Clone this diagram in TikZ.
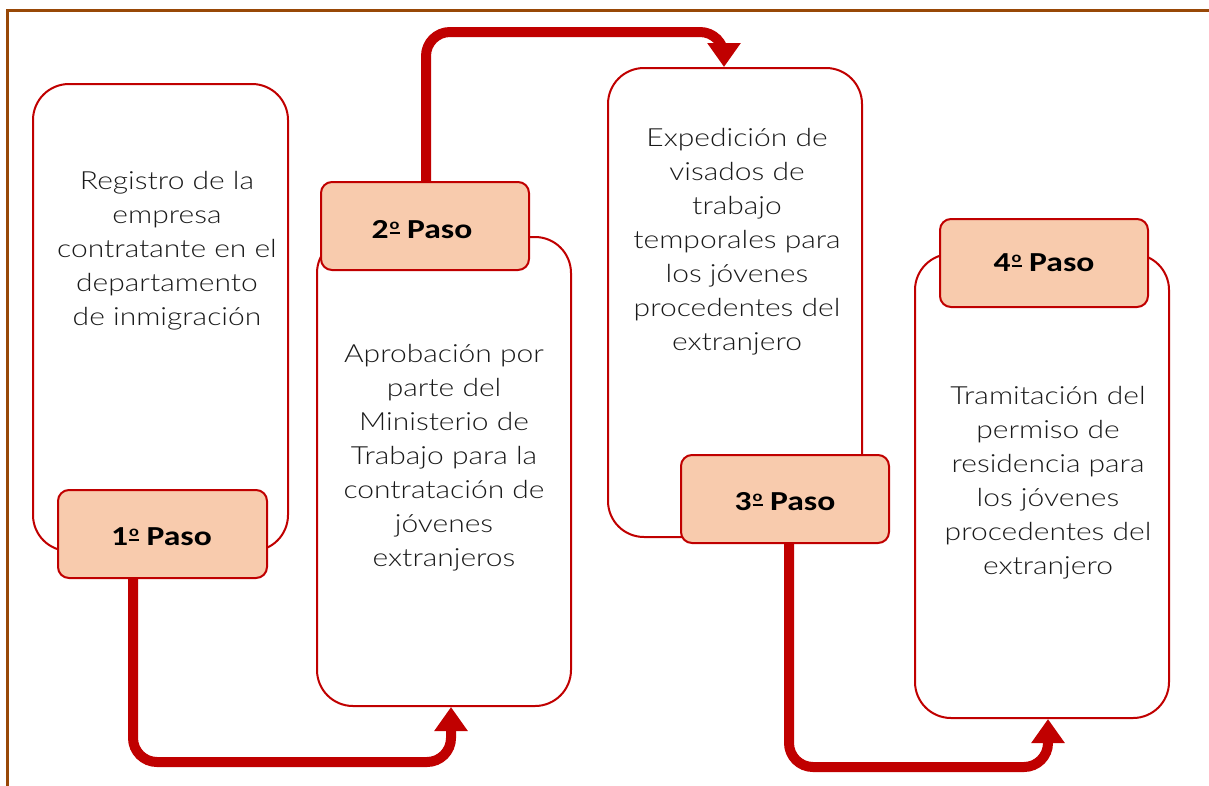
\documentclass[tikz,border=0pt]{standalone}
\usepackage{fontspec}
\setmainfont{Carlito}
\newfontfamily\bodyfont[FakeStretch=1.2]{Lato Light}
\newfontfamily\labfont[FakeStretch=1.22]{Carlito}
\usetikzlibrary{arrows.meta}
\definecolor{dred}{HTML}{C00000}
\definecolor{peach}{HTML}{F8CBAD}
\definecolor{brownb}{HTML}{984807}
\definecolor{txt}{HTML}{1A1A1A}
\newcommand\ordo{\kern1pt\makebox[10pt][l]{\raisebox{5pt}{\rule{10pt}{2pt}}\kern-10pt\raisebox{9pt}{\makebox[10pt]{\fontsize{15}{15}\selectfont o}}}}
\tikzset{
  bigbox/.style={draw=dred, line width=2pt, fill=white, rounded corners=36pt, minimum width=254pt},
  lab/.style={draw=dred, line width=2pt, fill=peach, rounded corners=11pt, minimum width=208pt, minimum height=88pt},
  labtext/.style={font=\labfont\bfseries\fontsize{27.5}{30}\selectfont, text=black},
  body/.style={align=center, text=txt, font=\bodyfont\fontsize{25}{34}\selectfont},
  flow/.style={draw=dred, line width=10pt, rounded corners=24pt, -{Triangle[width=32pt,length=24pt]}}
}
\begin{document}
\begin{tikzpicture}[x=1pt,y=-1pt]
\useasboundingbox (0,0) rectangle (1209,785);
\draw[brownb, line width=3pt] (7,786) -- (7,10) -- (1210,10);
% boxes
\node[bigbox, minimum width=255pt, minimum height=467pt] (b1) at (160.5,317.5) {};
\node[bigbox, minimum height=469pt] (b2) at (444,471.5) {};
\node[bigbox, minimum height=469pt] (b3) at (735,302.5) {};
\node[bigbox, minimum height=464pt] (b4) at (1042,486) {};
% body texts
\node[body] (t1) at (167,251) {Registro de la\\empresa\\contratante en el\\departamento\\de inmigración};
\node[body] (t2) at (444,458) {Aprobación por\\parte del\\Ministerio de\\Trabajo para la\\contratación de\\jóvenes\\extranjeros};
\node[body] (t3) at (737,242) {Expedición de\\visados de\\trabajo\\temporales para\\los jóvenes\\procedentes del\\extranjero};
\node[body] (t4) at (1048,483) {Tramitación del\\permiso de\\residencia para\\los jóvenes\\procedentes del\\extranjero};
% labels
\node[lab, minimum width=209pt] (l1) at (162.5,534) {};
\node[lab] (l2) at (425,226) {};
\node[lab] (l3) at (785,499) {};
\node[lab] (l4) at (1044,263) {};
\node[labtext] (p1) at ([yshift=-3pt,xshift=-1pt]l1.center) {1\ordo\ Paso};
\node[labtext] (p2) at ([yshift=-4pt,xshift=-3pt]l2.center) {2\ordo\ Paso};
\node[labtext] (p3) at ([yshift=-3pt]l3.center) {3\ordo\ Paso};
\node[labtext] (p4) at ([yshift=0pt]l4.center) {4\ordo\ Paso};
% connectors
\draw[flow] ([xshift=-29.5pt]l1.south) |- (290,762) -| ([xshift=7pt]b2.south);
\draw[flow] ([xshift=1pt]l2.north) |- (600,32) -| ([xshift=-11pt]b3.north);
\draw[flow] ([xshift=4pt]l3.south) |- (900,767) -| ([xshift=6pt]b4.south);
\end{tikzpicture}
\end{document}
